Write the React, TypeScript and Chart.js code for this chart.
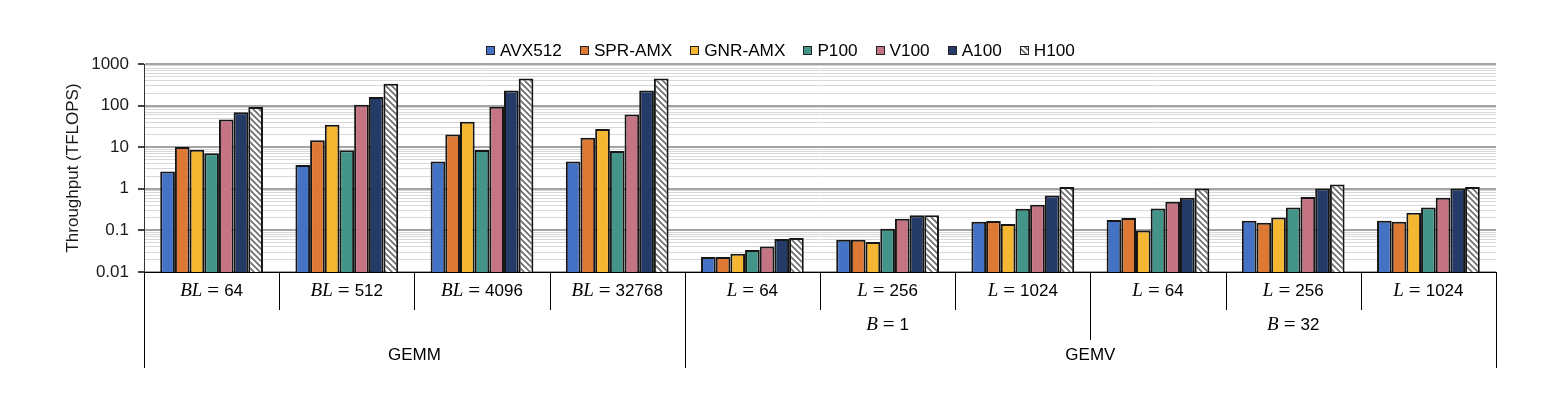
import { useEffect, useRef } from 'react';
import { Chart, registerables } from 'chart.js';

Chart.register(...registerables);

// ---- data ----
const categories = ['BL=64', 'BL=512', 'BL=4096', 'BL=32768', 'B=1 L=64', 'B=1 L=256', 'B=1 L=1024', 'B=32 L=64', 'B=32 L=256', 'B=32 L=1024'];
const level1Letters = ['BL', 'BL', 'BL', 'BL', 'L', 'L', 'L', 'L', 'L', 'L'];
const level1Numbers = ['64', '512', '4096', '32768', '64', '256', '1024', '64', '256', '1024'];
const batchLetters = ['B', 'B'];
const batchNumbers = ['1', '32'];
const batchSpans = [[4, 6], [7, 9]];
const opLabels = ['GEMM', 'GEMV'];
const opSpans = [[0, 3], [4, 9]];

const seriesNames = ['AVX512', 'SPR-AMX', 'GNR-AMX', 'P100', 'V100', 'A100', 'H100'];
const avx512 = [2.62, 3.73, 4.56, 4.56, 0.0229, 0.0598, 0.162, 0.178, 0.171, 0.171];
const sprAmx = [10.1, 14.6, 20.3, 16.9, 0.023, 0.0598, 0.168, 0.199, 0.153, 0.162];
const gnrAmx = [8.7, 34.7, 41, 27.4, 0.0275, 0.0526, 0.143, 0.1, 0.205, 0.266];
const p100 = [7.2, 8.4, 8.6, 8.1, 0.0338, 0.11, 0.332, 0.338, 0.357, 0.357];
const v100 = [46.6, 105, 94, 61, 0.0412, 0.191, 0.415, 0.49, 0.635, 0.61];
const a100 = [69, 161, 232, 232, 0.0621, 0.23, 0.693, 0.61, 1.02, 1.02];
const h100 = [92, 336, 451, 451, 0.0656, 0.23, 1.1, 1.02, 1.26, 1.1];
const seriesValues = [avx512, sprAmx, gnrAmx, p100, v100, a100, h100];
const seriesColors = ['#4472C4', '#DD7935', '#F5B731', '#43958A', '#C47482', '#243A67', 'PATTERN'];

const yMin = 0.01;
const yMax = 1000;
const yTickValues: number[] = [];
for (let e = -2; e <= 2; e++) {
  for (let s = 1; s <= 9; s++) yTickValues.push(Number((s * Math.pow(10, e)).toPrecision(3)));
}
yTickValues.push(1000);

const isDecade = (v: number) => Math.abs(Math.log10(v) - Math.round(Math.log10(v))) < 1e-9;

const SANS = '"Liberation Sans", Arial, sans-serif';
const SERIF = '"Liberation Serif", "Times New Roman", serif';

function makePattern(): CanvasPattern | string {
  const pc = document.createElement('canvas');
  pc.width = 6;
  pc.height = 6;
  const p = pc.getContext('2d');
  if (!p) return '#ffffff';
  p.fillStyle = '#ffffff';
  p.fillRect(0, 0, 6, 6);
  p.strokeStyle = '#6a6a6a';
  p.lineWidth = 1.6;
  p.beginPath();
  p.moveTo(-1, -1); p.lineTo(7, 7);
  p.moveTo(-1, 5); p.lineTo(1, 7);
  p.moveTo(5, -1); p.lineTo(7, 1);
  p.stroke();
  const pat = p.createPattern(pc, 'repeat');
  return pat || '#ffffff';
}

function drawMath(ctx: CanvasRenderingContext2D, letters: string, num: string, cx: number, cy: number) {
  const gap = 5;
  const fLetters = `italic 19px ${SERIF}`;
  const fEq = `21px ${SERIF}`;
  const fNum = `17px ${SANS}`;
  ctx.font = fLetters;
  const wl = ctx.measureText(letters).width;
  ctx.font = fEq;
  const we = ctx.measureText('=').width;
  ctx.font = fNum;
  const wn = ctx.measureText(num).width;
  const total = wl + gap + we + gap + wn;
  let x = cx - total / 2;
  ctx.textAlign = 'left';
  ctx.textBaseline = 'middle';
  ctx.fillStyle = '#000';
  ctx.font = fLetters;
  ctx.fillText(letters, x, cy);
  x += wl + gap;
  ctx.font = fEq;
  ctx.fillText('=', x, cy);
  x += we + gap;
  ctx.font = fNum;
  ctx.fillText(num, x, cy);
}

const labelsPlugin = {
  id: 'multiLevelLabels',
  afterDraw(chart: any) {
    const ctx: CanvasRenderingContext2D = chart.ctx;
    const area = chart.chartArea;
    const n = categories.length;
    const step = (area.right - area.left) / n;
    const bx = (i: number) => area.left + i * step;
    const b = area.bottom;
    ctx.save();
    // separators
    ctx.strokeStyle = '#000';
    ctx.lineWidth = 1;
    const line = (x: number, len: number) => {
      const xx = Math.round(x) + 0.5;
      ctx.beginPath();
      ctx.moveTo(xx, b);
      ctx.lineTo(xx, b + len);
      ctx.stroke();
    };
    for (let i = 0; i <= n; i++) {
      let len = 38;
      if (opSpans.some(s => s[0] === i || s[1] + 1 === i)) len = 96;
      else if (batchSpans.some(s => s[0] === i || s[1] + 1 === i)) len = 68;
      line(bx(i), len);
    }
    // level 1
    for (let i = 0; i < n; i++) {
      drawMath(ctx, level1Letters[i], level1Numbers[i], bx(i) + step / 2, b + 19);
    }
    // level 2
    batchSpans.forEach((s, k) => {
      drawMath(ctx, batchLetters[k], batchNumbers[k], (bx(s[0]) + bx(s[1] + 1)) / 2, b + 53);
    });
    // level 3
    ctx.font = `17px ${SANS}`;
    ctx.textAlign = 'center';
    ctx.textBaseline = 'middle';
    ctx.fillStyle = '#000';
    opSpans.forEach((s, k) => {
      ctx.fillText(opLabels[k], (bx(s[0]) + bx(s[1] + 1)) / 2, b + 83);
    });

    // legend
    ctx.font = `17.2px ${SANS}`;
    const box = 9, gap = 5, spacing = 18;
    const items = chart.data.datasets.map((ds: any) => ({
      label: ds.label as string,
      fill: ds.backgroundColor,
      w: ctx.measureText(ds.label).width,
    }));
    const total = items.reduce((acc: number, it: any) => acc + box + gap + it.w, 0) + spacing * (items.length - 1);
    let x = chart.width / 2 + 8.5 - total / 2;
    const cy = 50;
    items.forEach((it: any) => {
      const top = Math.round(cy - box / 2);
      const left = Math.round(x);
      ctx.fillStyle = it.fill;
      ctx.fillRect(left, top, box, box);
      ctx.strokeStyle = '#222';
      ctx.lineWidth = 1;
      ctx.strokeRect(left + 0.5, top + 0.5, box - 1, box - 1);
      ctx.fillStyle = '#000';
      ctx.textAlign = 'left';
      ctx.textBaseline = 'middle';
      ctx.fillText(it.label, x + box + gap, cy + 1);
      x += box + gap + it.w + spacing;
    });
    ctx.restore();
  },
};

export default function App() {
  const canvasRef = useRef<HTMLCanvasElement | null>(null);

  useEffect(() => {
    if (!canvasRef.current) return;
    const pattern = makePattern();
    const datasets = seriesNames.map((name, i) => ({
      label: name,
      data: seriesValues[i],
      backgroundColor: seriesColors[i] === 'PATTERN' ? pattern : seriesColors[i],
      borderColor: '#161616',
      borderWidth: 2,
      categoryPercentage: 0.76,
      barPercentage: 1.0,
    }));
    const chart = new Chart(canvasRef.current, {
      type: 'bar',
      data: { labels: categories, datasets: datasets as any },
      options: {
        responsive: false,
        animation: false,
        layout: { padding: { left: 0, right: 48, top: 64, bottom: 0 } },
        plugins: {
          legend: { display: false },
          tooltip: { enabled: false },
          title: { display: false },
        },
        scales: {
          x: {
            type: 'category',
            grid: { display: false },
            ticks: { display: false },
            border: { display: true, color: '#000', width: 1 },
            afterFit: (s: any) => { s.height = 132; },
          },
          y: {
            type: 'logarithmic',
            min: yMin,
            max: yMax,
            afterBuildTicks: (s: any) => {
              s.ticks = yTickValues.map(v => ({ value: v, major: isDecade(v) }));
            },
            afterFit: (s: any) => { s.width = 144; },
            ticks: {
              autoSkip: false,
              padding: 9,
              color: '#1a1a1a',
              font: { family: SANS, size: 17 },
              callback: (v: any) => {
                const val = Number(v);
                if (!isDecade(val)) return '';
                return String(Number(val.toPrecision(3)));
              },
            },
            grid: {
              drawTicks: true,
              tickLength: 6,
              color: (c: any) => (c.tick && isDecade(c.tick.value) ? '#a4a4a4' : '#d8d8d8'),
              lineWidth: (c: any) => (c.tick && isDecade(c.tick.value) ? 2 : 1),
              tickColor: (c: any) => (c.tick && isDecade(c.tick.value) ? '#444' : 'rgba(0,0,0,0)'),
            },
            border: { display: true, color: '#333', width: 1 },
            title: {
              display: true,
              text: 'Throughput (TFLOPS)',
              color: '#1a1a1a',
              font: { family: SANS, size: 17 },
              padding: { top: 63, bottom: 0 },
            },
          },
        },
      },
      plugins: [labelsPlugin],
    });
    return () => chart.destroy();
  }, []);

  return (
    <div style={{ position: 'absolute', left: 0, top: 0, width: 1544, height: 404, background: '#fff' }}>
      <canvas ref={canvasRef} width={1544} height={404} style={{ width: 1544, height: 404, display: 'block' }} />
    </div>
  );
}
